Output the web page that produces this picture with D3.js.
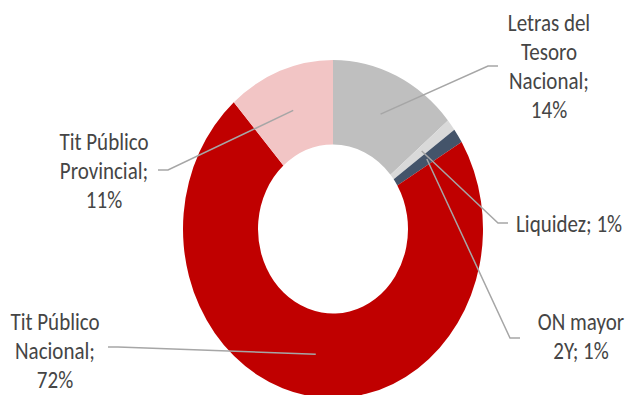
<!DOCTYPE html>
<html>
<head>
<meta charset="utf-8">
<script src="https://cdn.jsdelivr.net/npm/d3@7/dist/d3.min.js"></script>
<style>
  body { margin: 0; background: #fff; }
  .label { font-family: Calibri, Carlito, Lato, sans-serif; font-size: 21px; fill: #454545; }
  .leader { fill: none; stroke: #a6a6a6; stroke-width: 1.5; }
</style>
</head>
<body>
<script>
// Data (share of portfolio, %)
const categories = ["Letras del Tesoro Nacional", "Liquidez", "ON mayor 2Y",
                    "Tit Público Nacional", "Tit Público Provincial"];
const shares = [13.9, 1.1, 1.4, 72.1, 11.5];
const colors = ["#bfbfbf", "#d9d9d9", "#44546a", "#c00000", "#f2c5c5"];
const labelLines = [
  ["Letras del", "Tesoro", "Nacional;", "14%"],
  ["Liquidez; 1%"],
  ["ON mayor", "2Y; 1%"],
  ["Tit Público", "Nacional;", "72%"],
  ["Tit Público", "Provincial;", "11%"]
];

const width = 627, height = 395;
const cx = 333, cy = 229;
const outerR = 150, innerR = 75;
const stretch = 1.127;   // chart is drawn taller than wide

// label layout: anchor x, first baseline, text anchor, elbow, line end
const layout = [
  { x: 549, y: 31, anchor: "middle", elbow: [488, 66], end: [498, 66] },
  { x: 516, y: 232, anchor: "start", elbow: [498, 223], end: [508, 223] },
  { x: 581, y: 330, anchor: "middle", elbow: [510, 338], end: [520, 338] },
  { x: 55, y: 330, anchor: "middle", elbow: [118, 347], end: [108, 347] },
  { x: 104, y: 150, anchor: "middle", elbow: [168, 170], end: [158, 170] }
];

const svg = d3.select("body").append("svg")
  .attr("width", width)
  .attr("height", height);

const pie = d3.pie().sort(null).value(d => d)(shares);
const arc = d3.arc().innerRadius(innerR).outerRadius(outerR);

const donut = svg.append("g")
  .attr("transform", `translate(${cx},${cy}) scale(1,${stretch})`);

donut.selectAll("path")
  .data(pie)
  .join("path")
  .attr("d", arc)
  .attr("fill", (d, i) => colors[i]);

// leader lines from slice centroids
svg.selectAll("polyline.leader")
  .data(pie)
  .join("polyline")
  .attr("class", "leader")
  .attr("points", (d, i) => {
    let c = arc.centroid(d);
    let p0 = [cx + c[0], cy + c[1] * stretch];
    return [p0, layout[i].elbow, layout[i].end].map(p => p.join(",")).join(" ");
  });

// labels
const lineStep = 29;
categories.forEach((name, i) => {
  let l = layout[i];
  let g = svg.append("g")
    .attr("transform", `translate(${l.x},${l.y}) scale(1,${stretch})`);
  let t = g.append("text")
    .attr("class", "label")
    .attr("text-anchor", l.anchor);
  labelLines[i].forEach((line, j) => {
    t.append("tspan")
      .attr("x", 0)
      .attr("y", j * lineStep / stretch)
      .text(line);
  });
});
</script>
</body>
</html>
